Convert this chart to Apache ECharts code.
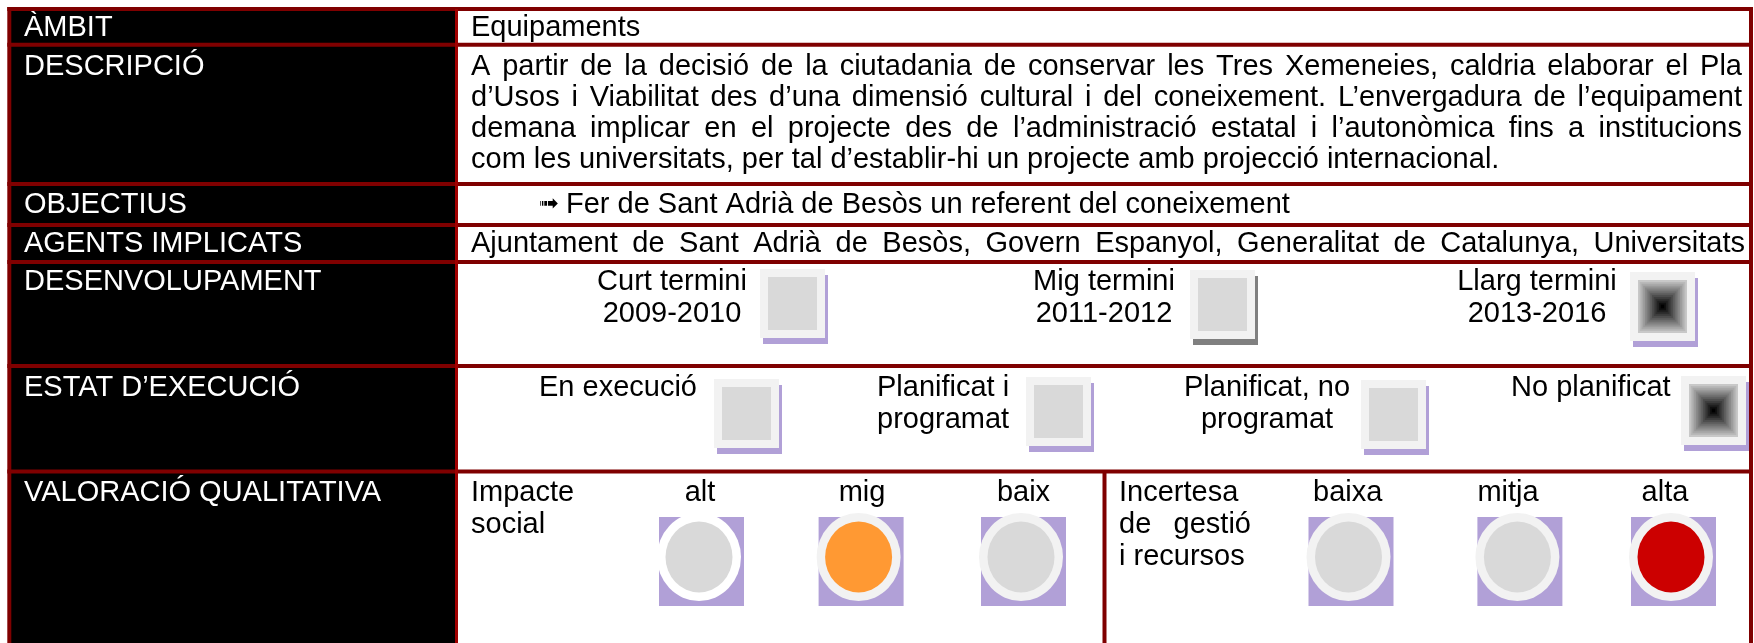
<!DOCTYPE html>
<html><head><meta charset="utf-8">
<script src="https://cdn.jsdelivr.net/npm/echarts@6/dist/echarts.min.js"></script>
<style>html,body{margin:0;padding:0;background:#fff}#c{width:1754px;height:643px}</style>
</head><body><div id="c"></div>
<script>
// ================= DATA =================
const rowLabels = ['ÀMBIT', 'DESCRIPCIÓ', 'OBJECTIUS', 'AGENTS IMPLICATS', 'DESENVOLUPAMENT', 'ESTAT D’EXECUCIÓ', 'VALORACIÓ QUALITATIVA'];
const ambitText = 'Equipaments';
const descripcioLines = [
  'A partir de la decisió de la ciutadania de conservar les Tres Xemeneies, caldria elaborar el Pla',
  'd’Usos i Viabilitat des d’una dimensió cultural i del coneixement. L’envergadura de l’equipament',
  'demana implicar en el projecte des de l’administració estatal i l’autonòmica fins a institucions',
  'com les universitats, per tal d’establir-hi un projecte amb projecció internacional.'
];
const objectiusText = 'Fer de Sant Adrià de Besòs un referent del coneixement';
const agentsText = 'Ajuntament de Sant Adrià de Besòs, Govern Espanyol, Generalitat de Catalunya, Universitats';
const terminiLabels = [['Curt termini', '2009-2010'], ['Mig termini', '2011-2012'], ['Llarg termini', '2013-2016']];
const terminiMarked = [false, false, true];
const estatLabels = [['En execució'], ['Planificat i', 'programat'], ['Planificat, no', 'programat'], ['No planificat']];
const estatMarked = [false, false, false, true];
const impacteTitle = ['Impacte', 'social'];
const impacteLevels = ['alt', 'mig', 'baix'];
const impacteSelected = 'mig';
const incertesaTitle = ['Incertesa', 'de gestió', 'i recursos'];
const incertesaLevels = ['baixa', 'mitja', 'alta'];
const incertesaSelected = 'alta';

// ================= LAYOUT / STYLE =================
const W = 1754, H = 643;
const FONT = 29, FAMILY = '"Liberation Sans", Arial, sans-serif';
const frame = { left: 9.3, colSep: 456.5, right: 1751, midSep: 1104.5, rowLines: [9, 44.7, 184, 225, 262, 366, 471.5] };
const labelX = 24, contentX = 471, contentRight = 1742, agentsRight = 1745;
const rowBaseline = [37.3, 76, 214, 253, 291, 397, 501.5];
const descLineH = 31, lineH = 32;
const arrowX = 539, objX = 566;
const terminiLayout = [
  { tx: 672, align: 'center', box: [760, 269], shadow: '#b1a0d7' },
  { tx: 1104, align: 'center', box: [1190, 270], shadow: '#808080' },
  { tx: 1537, align: 'center', box: [1630, 272], shadow: '#b1a0d7' }
];
const estatLayout = [
  { tx: 539, align: 'left', box: [714, 379], shadow: '#b1a0d7' },
  { tx: 877, align: 'left', box: [1026, 377], shadow: '#b1a0d7' },
  { tx: 1267, align: 'center', box: [1361, 380], shadow: '#b1a0d7' },
  { tx: 1511, align: 'left', box: [1681, 376], shadow: '#b1a0d7' }
];
const levelLayout = [
  { lx: 700, rx: 659, ring: '#ffffff' },
  { lx: 862, rx: 818.6, ring: '#f2f2f2' },
  { lx: 1023.5, rx: 981, ring: '#f2f2f2' },
  { lx: 1347.7, rx: 1308.5, ring: '#f2f2f2' },
  { lx: 1508, rx: 1477.4, ring: '#f2f2f2' },
  { lx: 1665, rx: 1631, ring: '#f2f2f2' }
];
const levelRect = { y: 517, w: 85, h: 89, dx: -2.5, dy: -4.5, rxO: 42, ryO: 44, rxI: 33.5, ryI: 35.5 };
const titleLayout = [{ x: 471, right: 574 }, { x: 1119, right: 1251 }];
const selColor = { impacte: '#ff9933', incertesa: '#cc0000' };

// ================= HELPERS =================
const mctx = document.createElement('canvas').getContext('2d');
function tw(s, size) { mctx.font = size + 'px ' + FAMILY; return mctx.measureText(s).width; }
function txt(api, x, baseline, s, o) {
  o = o || {};
  const size = o.size || FONT;
  const p = api.coord([x, baseline - size * 0.31]);
  return { type: 'text', x: p[0], y: p[1], style: { text: s, fill: o.fill || '#000', fontSize: size, fontFamily: o.family || FAMILY, align: o.align || 'left', verticalAlign: 'middle' } };
}
function justified(api, x0, x1, baseline, line, o) {
  const words = line.split(' ');
  const ws = words.map(w => tw(w, FONT));
  const total = ws.reduce((a, b) => a + b, 0);
  const gap = words.length > 1 ? (x1 - x0 - total) / (words.length - 1) : 0;
  let x = x0; const out = [];
  words.forEach((w, i) => { out.push(txt(api, x, baseline, w, o)); x += ws[i] + gap; });
  return out;
}
function rect(api, x, y, w, h, fill) {
  const a = api.coord([x, y]), b = api.coord([x + w, y + h]);
  return { type: 'rect', shape: { x: Math.min(a[0], b[0]), y: Math.min(a[1], b[1]), width: Math.abs(b[0] - a[0]), height: Math.abs(b[1] - a[1]) }, style: { fill } };
}
function seg(api, x1, y1, x2, y2, color, width) {
  const a = api.coord([x1, y1]), b = api.coord([x2, y2]);
  return { type: 'line', shape: { x1: a[0], y1: a[1], x2: b[0], y2: b[1] }, style: { stroke: color, lineWidth: width } };
}
function ell(api, cx, cy, rx, ry, fill) {
  const c = api.coord([cx, cy]);
  return { type: 'circle', x: c[0], y: c[1], scaleX: rx / 50, scaleY: ry / 50, shape: { cx: 0, cy: 0, r: 50 }, style: { fill } };
}
function box(api, x, y, marked, shadow) {
  const w = 65, h = 69, ins = 8;
  const out = [rect(api, x + 3, y + 6, w, h, shadow), rect(api, x, y, w, h, '#f2f2f2')];
  if (!marked) out.push(rect(api, x + ins, y + ins, w - 2 * ins, h - 2 * ins, '#d9d9d9'));
  else {
    const N = 14, iw = w - 2 * ins, ih = h - 2 * ins;
    for (let k = 0; k < N; k++) {
      const t = k / (N - 1);
      const c = Math.round(200 * (1 - t));
      const dx = k * iw / (2 * N), dy = k * ih / (2 * N);
      out.push(rect(api, x + ins + dx, y + ins + dy, iw - 2 * dx, ih - 2 * dy, 'rgb(' + c + ',' + c + ',' + c + ')'));
    }
  }
  return out;
}
const idx = arr => arr.map((_, i) => [i]);

// ================= SERIES =================
const labelCells = {
  type: 'custom', z: 1, data: idx(rowLabels),
  renderItem(params, api) {
    const i = api.value(0);
    const top = frame.rowLines[i], bot = i + 1 < frame.rowLines.length ? frame.rowLines[i + 1] : H + 10;
    return { type: 'group', children: [
      rect(api, frame.left, top, frame.colSep - frame.left, bot - top, '#000'),
      txt(api, labelX, rowBaseline[i], rowLabels[i], { fill: '#fff' })
    ] };
  }
};
const contentRows = [ambitText, descripcioLines, objectiusText, agentsText];
const contentSeries = {
  type: 'custom', z: 2, data: idx(contentRows),
  renderItem(params, api) {
    const i = api.value(0);
    let ch = [];
    if (i === 1) {
      descripcioLines.forEach((l, k) => {
        const b = rowBaseline[1] + k * descLineH;
        if (k < descripcioLines.length - 1) ch = ch.concat(justified(api, contentX, contentRight, b, l));
        else ch.push(txt(api, contentX, b, l));
      });
    } else if (i === 2) {
      ch.push(txt(api, arrowX, rowBaseline[2] - 2, '➟', { size: 24, family: '"DejaVu Sans", sans-serif' }));
      ch.push(txt(api, objX, rowBaseline[2], objectiusText));
    } else if (i === 3) {
      ch = ch.concat(justified(api, contentX, agentsRight, rowBaseline[3], agentsText));
    } else {
      ch.push(txt(api, contentX, rowBaseline[0], ambitText));
    }
    return { type: 'group', children: ch };
  }
};
function groupSeries(labels, marked, layout, row) {
  return {
    type: 'custom', z: 3, data: idx(labels),
    renderItem(params, api) {
      const i = api.value(0), L = layout[i];
      let ch = [];
      labels[i].forEach((s, k) => ch.push(txt(api, L.tx, rowBaseline[row] + k * lineH, s, { align: L.align })));
      ch = ch.concat(box(api, L.box[0], L.box[1], marked[i], L.shadow));
      return { type: 'group', children: ch };
    }
  };
}
const levels = impacteLevels.map(l => ({ l, sel: l === impacteSelected, c: selColor.impacte }))
  .concat(incertesaLevels.map(l => ({ l, sel: l === incertesaSelected, c: selColor.incertesa })));
const levelSeries = {
  type: 'custom', z: 3, data: idx(levels),
  renderItem(params, api) {
    const i = api.value(0), L = levelLayout[i], d = levels[i], R = levelRect;
    const cx = L.rx + R.w / 2 + R.dx, cy = R.y + R.h / 2 + R.dy;
    return { type: 'group', children: [
      txt(api, L.lx, rowBaseline[6], d.l, { align: 'center' }),
      rect(api, L.rx, R.y, R.w, R.h, '#b1a0d7'),
      ell(api, cx, cy, R.rxO, R.ryO, L.ring),
      ell(api, cx, cy, R.rxI, R.ryI, d.sel ? d.c : '#d9d9d9')
    ] };
  }
};
const titles = [impacteTitle, incertesaTitle];
const titleSeries = {
  type: 'custom', z: 3, data: idx(titles),
  renderItem(params, api) {
    const i = api.value(0), T = titles[i], L = titleLayout[i];
    let ch = [];
    T.forEach((s, k) => {
      const b = rowBaseline[6] + k * lineH;
      if (k > 0 && k < T.length - 1) ch = ch.concat(justified(api, L.x, L.right, b, s));
      else ch.push(txt(api, L.x, b, s));
    });
    return { type: 'group', children: ch };
  }
};
const frameSeries = {
  type: 'custom', z: 5, data: [[0]],
  renderItem(params, api) {
    const ch = [];
    const dark = '#7f0000';
    frame.rowLines.forEach(y => ch.push(seg(api, frame.left - 2, y, frame.right + 2, y, dark, 4)));
    ch.push(seg(api, frame.left, frame.rowLines[0] - 2, frame.left, H + 5, dark, 4));
    ch.push(seg(api, frame.right, frame.rowLines[0] - 2, frame.right, H + 5, dark, 4));
    ch.push(seg(api, frame.colSep, frame.rowLines[0], frame.colSep, H + 5, '#a00000', 3));
    ch.push(seg(api, frame.midSep, frame.rowLines[6], frame.midSep, H + 5, dark, 4));
    return { type: 'group', children: ch };
  }
};

const chart = echarts.init(document.getElementById('c'), null, { renderer: 'canvas' });
chart.setOption({
  animation: false,
  backgroundColor: '#fff',
  grid: { left: 0, right: 0, top: 0, bottom: 0 },
  xAxis: { type: 'value', min: 0, max: W, show: false },
  yAxis: { type: 'value', min: 0, max: H, inverse: true, show: false },
  series: [labelCells, contentSeries,
    groupSeries(terminiLabels, terminiMarked, terminiLayout, 4),
    groupSeries(estatLabels, estatMarked, estatLayout, 5),
    levelSeries, titleSeries, frameSeries]
});
</script></body></html>
